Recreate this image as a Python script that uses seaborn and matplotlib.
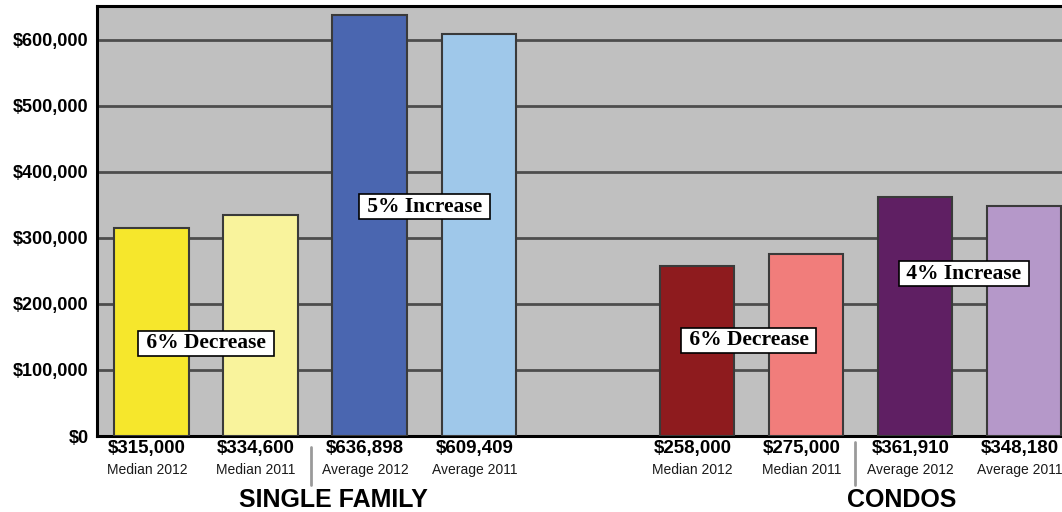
import pandas as pd
import numpy as np
import seaborn as sns
import matplotlib.pyplot as plt

# Datos
groups = ['SINGLE FAMILY'] * 4 + ['CONDOS'] * 4
labels = ['Median 2012', 'Median 2011', 'Average 2012', 'Average 2011'] * 2
prices = [315000, 334600, 636898, 609409, 258000, 275000, 361910, 348180]
bar_colors = ['#f6e72c', '#f9f39c', '#4a66b0', '#9fc8ea',
              '#8e1b1e', '#f17d7b', '#5f1f63', '#b598c9']
changes = ['6% Decrease', '5% Increase', '6% Decrease', '4% Increase']

df = pd.DataFrame({'group': groups, 'label': labels, 'price': prices})
df['key'] = df['group'] + ' ' + df['label']
order = list(df['key'][:4]) + [' '] + list(df['key'][4:])
palette = dict(zip(df['key'], bar_colors))

sns.set_style('white')
fig = plt.figure(figsize=(10.62, 5.12), dpi=100)
ax = fig.add_axes([0.0913, 0.1484, 0.9087, 0.8398])
ax.set_facecolor('#c0c0c0')

sns.barplot(data=df, x='key', y='price', hue='key', palette=palette, order=order,
            width=0.68, edgecolor='#3a3a3a', linewidth=1.5, legend=False,
            saturation=1, ax=ax, zorder=3)

ax.set_xlim(-0.5, 8.35)
ax.set_ylim(0, 651000)
ax.set_yticks(range(0, 700000, 100000))
ax.set_yticklabels(['$0'] + [f'${v:,}' for v in range(100000, 700000, 100000)],
                   fontsize=13, fontweight='bold', family='Liberation Sans', color='black')
ax.tick_params(axis='y', length=0, pad=6)
ax.set_xticks([])
ax.set_xlabel('')
ax.set_ylabel('')
ax.yaxis.grid(True, color='#4d4d4d', linewidth=2, zorder=1)
ax.set_axisbelow(True)
for s in ['top', 'left', 'bottom']:
    ax.spines[s].set_color('black')
    ax.spines[s].set_linewidth(2.2)
ax.spines['right'].set_visible(False)

# Etiquetas debajo de las barras
tr = ax.get_xaxis_transform()
for i, row in df.iterrows():
    x = order.index(row['key'])
    ax.text(x - 0.04, -0.03, f"${row['price']:,}", transform=tr, ha='center', va='center',
            fontsize=13.5, fontweight='bold', family='Liberation Sans', color='black')
    ax.text(x - 0.04, -0.079, row['label'], transform=tr, ha='center', va='center',
            fontsize=10, family='Liberation Sans', color='#1a1a1a')

ax.plot([1.46, 1.46], [-0.026, -0.114], transform=tr, color='#9a9a9a', lw=2, clip_on=False)
ax.plot([6.45, 6.45], [-0.014, -0.114], transform=tr, color='#9a9a9a', lw=2, clip_on=False)
ax.text(1.67, -0.149, 'SINGLE FAMILY', transform=tr, ha='center', va='center',
        fontsize=18, fontweight='bold', family='Liberation Sans', color='black')
ax.text(6.876, -0.149, 'CONDOS', transform=tr, ha='center', va='center',
        fontsize=18, fontweight='bold', family='Liberation Sans', color='black')

# Cajas de cambio porcentual
box_pos = [(0.5, 140500), (2.505, 347200), (5.477, 145200), (7.45, 245900)]
for (bx, by), txt in zip(box_pos, changes):
    ax.text(bx, by, ' ' + txt + ' ', ha='center', va='center', fontsize=15.5,
            fontweight='bold', family='Liberation Serif', color='black', zorder=5,
            bbox=dict(boxstyle='square,pad=0.12', fc='white', ec='black', lw=1.2))

fig.savefig('out.png', dpi=100)
